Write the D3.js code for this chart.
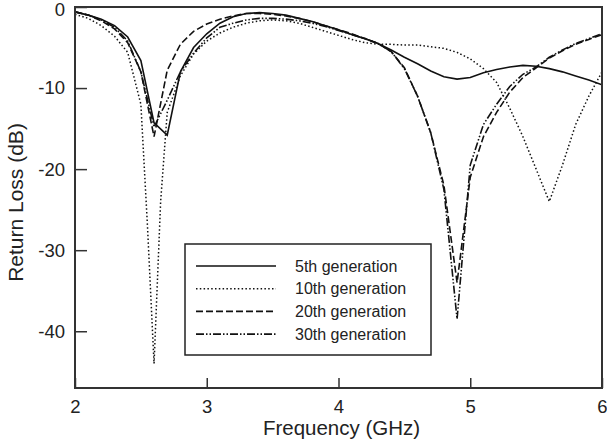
<!DOCTYPE html>
<html>
<head>
<meta charset="utf-8">
<script src="https://cdn.jsdelivr.net/npm/d3@7"></script>
<style>
  body { margin: 0; background: #fff; }
  svg { display: block; font-family: "Liberation Sans", Arial, sans-serif; }
  .axis_text { fill: #222; font-size: 18.5px; }
</style>
</head>
<body>
<figure id="returnLoss" style="margin:0"></figure>
<script>
// frequency steps (GHz) shared by most curves
var freq = [2.0, 2.1, 2.2, 2.3, 2.4, 2.5, 2.6, 2.7, 2.8, 2.9,
            3.0, 3.1, 3.2, 3.3, 3.4, 3.5, 3.6, 3.7, 3.8, 3.9,
            4.0, 4.1, 4.2, 4.3, 4.4, 4.5, 4.6, 4.7, 4.8, 4.9,
            5.0, 5.1, 5.2, 5.3, 5.4, 5.5, 5.6, 5.7, 5.8, 5.9, 6.0];

// 10th generation has a sharper dip so a couple of extra points
var freq10 = [2.0, 2.1, 2.2, 2.3, 2.4, 2.5, 2.55, 2.6, 2.65, 2.7, 2.8, 2.9,
              3.0, 3.1, 3.2, 3.3, 3.4, 3.5, 3.6, 3.7, 3.8, 3.9,
              4.0, 4.1, 4.2, 4.3, 4.4, 4.5, 4.6, 4.7, 4.8, 4.9,
              5.0, 5.1, 5.2, 5.3, 5.4, 5.5, 5.6, 5.7, 5.8, 5.9, 6.0];

var gen5 = [-0.6, -1.0, -1.5, -2.3, -3.7, -6.6, -14.3, -15.8, -8.0, -5.0,
            -3.3, -2.0, -1.2, -0.8, -0.7, -0.8, -1.0, -1.4, -1.8, -2.3,
            -2.8, -3.4, -3.9, -4.5, -5.3, -6.2, -7.0, -7.9, -8.6, -8.9,
            -8.7, -8.1, -7.7, -7.4, -7.2, -7.3, -7.6, -8.0, -8.5, -9.0, -9.6];

var gen10 = [-0.9, -1.4, -2.3, -3.6, -5.6, -12.0, -27.0, -44.0, -24.0, -13.0, -8.5, -5.8,
             -4.2, -3.2, -2.5, -2.0, -1.7, -1.6, -1.7, -2.0, -2.5, -3.0,
             -3.5, -4.0, -4.4, -4.6, -4.6, -4.7, -4.7, -4.9, -5.1, -5.6,
             -6.4, -7.6, -9.3, -12.5, -16.0, -20.0, -24.0, -19.5, -14.5, -11.0, -8.0];

var gen20 = [-0.6, -1.0, -1.7, -2.7, -4.4, -8.0, -16.0, -7.8, -4.6, -3.0,
             -2.1, -1.5, -1.1, -0.8, -0.8, -0.9, -1.1, -1.4, -1.8, -2.3,
             -2.8, -3.3, -3.9, -4.5, -5.5, -7.5, -11.0, -15.5, -22.0, -34.0,
             -21.0, -16.0, -13.0, -10.5, -8.7, -7.5, -6.3, -5.4, -4.6, -4.0, -3.4];

var gen30 = [-0.6, -1.0, -1.6, -2.5, -4.2, -8.0, -14.8, -11.5, -8.0, -5.7,
             -3.8, -2.5, -2.0, -1.6, -1.4, -1.4, -1.5, -1.7, -2.0, -2.4,
             -2.9, -3.4, -3.9, -4.5, -5.5, -7.6, -11.0, -15.5, -22.5, -38.5,
             -19.5, -14.5, -12.0, -9.8, -8.3, -7.4, -6.2, -5.3, -4.5, -3.9, -3.3];

var seriesNames = ["5th generation", "10th generation", "20th generation", "30th generation"];
var xTicks = [2, 3, 4, 5, 6];
var yTicks = [0, -10, -20, -30, -40];

var dimensions = {
	width: 607,
	height: 440,
	margin: { top: 7, right: 5, bottom: 52, left: 75 }
};
dimensions.boundedWidth = dimensions.width - dimensions.margin.left - dimensions.margin.right
dimensions.boundedHeight = dimensions.height - dimensions.margin.top - dimensions.margin.bottom

var svg = d3.select("figure#returnLoss")
	.append("svg")
	.attr("width", dimensions.width)
	.attr("height", dimensions.height)
	.append("g")
	.attr("transform", `translate(${dimensions.margin.left},${dimensions.margin.top})`);

var xScale = d3.scaleLinear()
	.domain([2, 6])
	.range([0, dimensions.boundedWidth]);

var yScale = d3.scaleLinear()
	.domain([-47, 0])
	.range([dimensions.boundedHeight, 0]);

// pair up x and y arrays for each curve
var series = [
	{ name: seriesNames[0], data: freq.map((f, i) => [f, gen5[i]]), dash: null, width: 1.6 },
	{ name: seriesNames[1], data: freq10.map((f, i) => [f, gen10[i]]), dash: "1.5,2.3", width: 1.5 },
	{ name: seriesNames[2], data: freq.map((f, i) => [f, gen20[i]]), dash: "7,3", width: 1.6 },
	{ name: seriesNames[3], data: freq.map((f, i) => [f, gen30[i]]), dash: "8,2,1.5,2,1.5,2", width: 1.6 }
];

var line = d3.line()
	.x(d => xScale(d[0]))
	.y(d => yScale(d[1]));

// clip so curves stay inside the frame
svg.append("clipPath").attr("id", "plotClip")
	.append("rect")
	.attr("width", dimensions.boundedWidth)
	.attr("height", dimensions.boundedHeight);

svg.append("g")
	.attr("clip-path", "url(#plotClip)")
	.selectAll("path")
	.data(series)
	.enter()
	.append("path")
	.attr("d", d => line(d.data))
	.attr("fill", "none")
	.attr("stroke", "#111")
	.attr("stroke-width", d => d.width)
	.attr("stroke-dasharray", d => d.dash);

// x axis, ticks point inward (up)
var xAxis = svg.append("g")
	.attr("class", "x_axis")
	.attr("transform", `translate(0, ${dimensions.boundedHeight})`)
	.call(d3.axisBottom(xScale).tickValues(xTicks).tickFormat(d3.format("d")).tickSize(-10).tickPadding(12));
xAxis.select(".domain").remove();
xAxis.selectAll("line").attr("stroke", "#333").attr("stroke-width", 1.5);
xAxis.selectAll("text").attr("class", "axis_text").attr("font-size", null).attr("font-family", null);

// y axis, ticks point inward (right)
var yAxis = svg.append("g")
	.attr("class", "y_axis")
	.call(d3.axisLeft(yScale).tickValues(yTicks).tickSize(-12).tickPadding(10));
yAxis.select(".domain").remove();
yAxis.selectAll("line").attr("stroke", "#333").attr("stroke-width", 1.5);
yAxis.selectAll("text").attr("class", "axis_text").attr("font-size", null).attr("font-family", null)
	.text(d => String(d))
	// nudge the top "0" down so it is not cut off
	.attr("y", d => d === 0 ? 3 : 0);

// frame around plot
svg.append("rect")
	.attr("width", dimensions.boundedWidth)
	.attr("height", dimensions.boundedHeight)
	.attr("fill", "none")
	.attr("stroke", "#333")
	.attr("stroke-width", 2);

// axis titles
svg.append("text")
	.attr("x", dimensions.boundedWidth / 2 + 3)
	.attr("y", dimensions.boundedHeight + 47)
	.attr("text-anchor", "middle")
	.attr("fill", "#222")
	.attr("font-size", 20.5)
	.text("Frequency (GHz)");

svg.append("text")
	.attr("transform", `translate(${-52}, ${dimensions.boundedHeight / 2 + 5}) rotate(-90)`)
	.attr("text-anchor", "middle")
	.attr("fill", "#222")
	.attr("font-size", 21)
	.text("Return Loss (dB)");

// legend box
var legend = svg.append("g")
	.attr("transform", `translate(${185 - dimensions.margin.left}, ${244 - dimensions.margin.top})`);

legend.append("rect")
	.attr("width", 246)
	.attr("height", 111)
	.attr("fill", "#fff")
	.attr("stroke", "#222")
	.attr("stroke-width", 1.5);

var rows = legend.selectAll("g.row")
	.data(series)
	.enter()
	.append("g")
	.attr("class", "row")
	.attr("transform", (d, i) => `translate(0, ${22 + i * 22.7})`);

rows.append("line")
	.attr("x1", 11)
	.attr("x2", 91)
	.attr("stroke", "#111")
	.attr("stroke-width", d => d.width)
	.attr("stroke-dasharray", d => d.dash);

rows.append("text")
	.attr("x", 110)
	.attr("dy", "0.35em")
	.attr("fill", "#222")
	.attr("font-size", 16)
	.text(d => d.name);
</script>
</body>
</html>
